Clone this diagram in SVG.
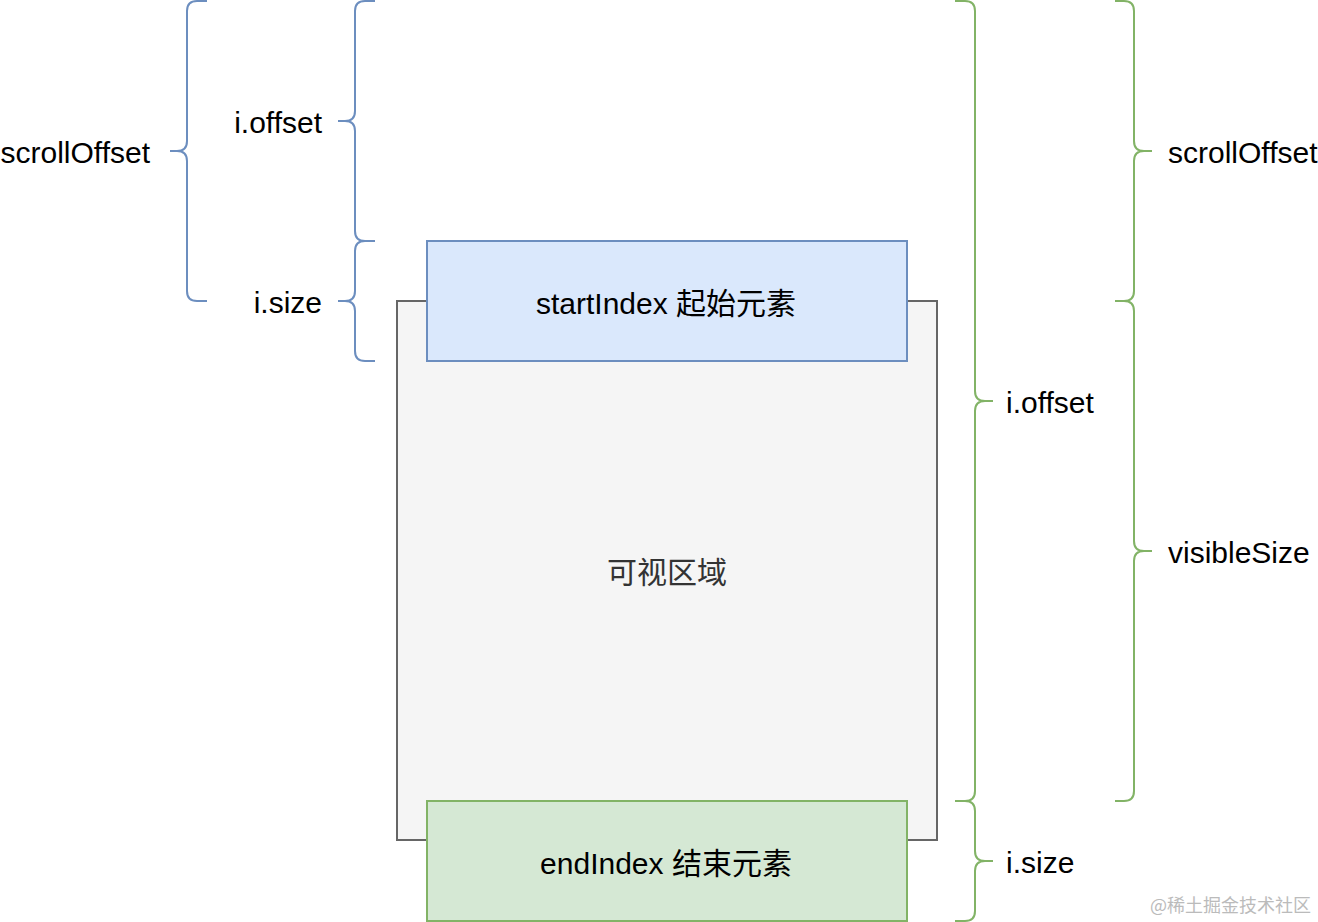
<svg xmlns="http://www.w3.org/2000/svg" width="1318" height="922" viewBox="0 0 1318 922">
<style>
.t{font-family:"Liberation Sans","Noto Sans CJK SC",sans-serif;font-size:30px;fill:#000;dominant-baseline:central}
.bb{fill:none;stroke:#6c8ebf;stroke-width:2}
.gb{fill:none;stroke:#82b366;stroke-width:2}
</style>
<rect width="1318" height="922" fill="#fff"/>
<g id="visible-area">
<rect x="397" y="301" width="540" height="539" fill="#f5f5f5" stroke="#666" stroke-width="2"/>
<text class="t" x="667" y="572" text-anchor="middle" style="fill:#333">可视区域</text>
</g>
<g id="start-node">
<rect x="427" y="241" width="480" height="120" fill="#dae8fc" stroke="#6c8ebf" stroke-width="2"/>
<text class="t" x="666" y="303" text-anchor="middle">startIndex 起始元素</text>
</g>
<g id="end-node">
<rect x="427" y="801" width="480" height="120" fill="#d5e8d4" stroke="#82b366" stroke-width="2"/>
<text class="t" x="666" y="863" text-anchor="middle">endIndex 结束元素</text>
</g>
<g id="connectors">
<path class="bb" d="M207 1 L197 1 Q187 1 187 11 L187 141 Q187 151 177 151 L170 151 M177 151 Q187 151 187 161 L187 291 Q187 301 197 301 L207 301"/>
<path class="bb" d="M375 1 L365 1 Q355 1 355 11 L355 111 Q355 121 345 121 L338 121 M345 121 Q355 121 355 131 L355 231 Q355 241 365 241 L375 241"/>
<path class="bb" d="M375 241 L365 241 Q355 241 355 251 L355 291 Q355 301 345 301 L338 301 M345 301 Q355 301 355 311 L355 351 Q355 361 365 361 L375 361"/>
<path class="gb" d="M955 1 L965 1 Q975 1 975 11 L975 391 Q975 401 985 401 L993 401 M985 401 Q975 401 975 411 L975 791 Q975 801 965 801 L955 801"/>
<path class="gb" d="M955 801 L965 801 Q975 801 975 811 L975 851 Q975 861 985 861 L993 861 M985 861 Q975 861 975 871 L975 911 Q975 921 965 921 L955 921"/>
<path class="gb" d="M1115 1 L1124 1 Q1134 1 1134 11 L1134 141 Q1134 151 1144 151 L1152 151 M1144 151 Q1134 151 1134 161 L1134 291 Q1134 301 1124 301 L1115 301"/>
<path class="gb" d="M1115 301 L1124 301 Q1134 301 1134 311 L1134 541 Q1134 551 1144 551 L1152 551 M1144 551 Q1134 551 1134 561 L1134 791 Q1134 801 1124 801 L1115 801"/>
</g>
<g id="labels">
<text class="t" x="150" y="152" text-anchor="end">scrollOffset</text>
<text class="t" x="322" y="122" text-anchor="end">i.offset</text>
<text class="t" x="322" y="302" text-anchor="end">i.size</text>
<text class="t" x="1006" y="402">i.offset</text>
<text class="t" x="1006" y="862">i.size</text>
<text class="t" x="1168" y="152">scrollOffset</text>
<text class="t" x="1168" y="552">visibleSize</text>
</g>
<text x="1311" y="912" text-anchor="end" font-family="'Noto Sans CJK SC',sans-serif" font-size="18" fill="#bbb">@稀土掘金技术社区</text>
</svg>
